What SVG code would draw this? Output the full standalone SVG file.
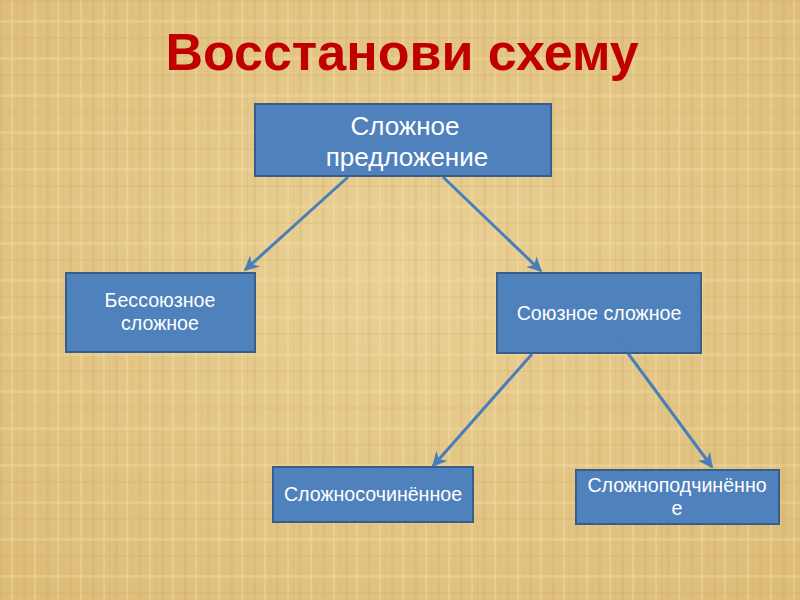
<svg xmlns="http://www.w3.org/2000/svg" width="800" height="600" viewBox="0 0 800 600">
<defs>
<style>
.box{fill:#4F81BD;stroke:#385D8A;stroke-width:2}
.t{font-family:"Liberation Sans",Arial,sans-serif;fill:#FFFFFF;text-anchor:middle;font-size:19.6px}
.c{stroke:#4A7EBB;stroke-width:3;fill:none;marker-end:url(#ah)}
</style>
<marker id="ah" viewBox="0 0 10 10" refX="9" refY="5" markerWidth="5" markerHeight="5" orient="auto" markerUnits="strokeWidth">
<path d="M0,0 L10,5 L0,10 L3,5 Z" fill="#4A7EBB"/>
</marker>
<pattern id="vs" width="23" height="600" patternUnits="userSpaceOnUse">
<rect x="0" y="0" width="3" height="600" fill="#C9A15A" opacity="0.18"/>
<rect x="11" y="0" width="2" height="600" fill="#F6E2A8" opacity="0.35"/>
<rect x="17" y="0" width="1" height="600" fill="#C9A15A" opacity="0.15"/>
</pattern>
<pattern id="hs" width="800" height="37" patternUnits="userSpaceOnUse">
<rect x="0" y="0" width="800" height="2" fill="#C9A15A" opacity="0.15"/>
<rect x="0" y="20" width="800" height="3" fill="#F6E2A8" opacity="0.3"/>
</pattern>
<radialGradient id="bg" cx="50%" cy="45%" r="70%">
<stop offset="0" stop-color="#EAD197"/>
<stop offset="1" stop-color="#DDBD78"/>
</radialGradient>
</defs>
<rect width="800" height="600" fill="url(#bg)"/>
<rect width="800" height="600" fill="url(#vs)"/>
<rect width="800" height="600" fill="url(#hs)"/>
<text x="402" y="70" font-family="'Liberation Sans',Arial,sans-serif" font-size="52" font-weight="bold" fill="#C00000" text-anchor="middle">Восстанови схему</text>
<g id="connectors">
<line class="c" x1="348" y1="177" x2="245" y2="270"/>
<line class="c" x1="443" y1="177" x2="541" y2="271"/>
<line class="c" x1="532" y1="354" x2="433" y2="466"/>
<line class="c" x1="627" y1="352" x2="712" y2="467"/>
</g>
<g id="n1">
<rect class="box" x="255" y="104" width="296" height="72"/>
<text class="t" x="405" y="135" style="font-size:26px">Сложное</text>
<text class="t" x="407" y="166" style="font-size:26px">предложение</text>
</g>
<g id="n2">
<rect class="box" x="66" y="273" width="189" height="79"/>
<text class="t" x="160" y="307">Бессоюзное</text>
<text class="t" x="160" y="330">сложное</text>
</g>
<g id="n3">
<rect class="box" x="497" y="273" width="204" height="80"/>
<line x1="620" y1="340" x2="629" y2="353" stroke="#4A7EBB" stroke-width="2" opacity="0.5"/>
<text class="t" x="599" y="320">Союзное сложное</text>
</g>
<g id="n4">
<rect class="box" x="273" y="467" width="200" height="55"/>
<text class="t" x="373" y="501">Сложносочинённое</text>
</g>
<g id="n5">
<rect class="box" x="576" y="470" width="203" height="54"/>
<text class="t" x="677" y="492">Сложноподчинённо</text>
<text class="t" x="677" y="515">е</text>
</g>
</svg>
